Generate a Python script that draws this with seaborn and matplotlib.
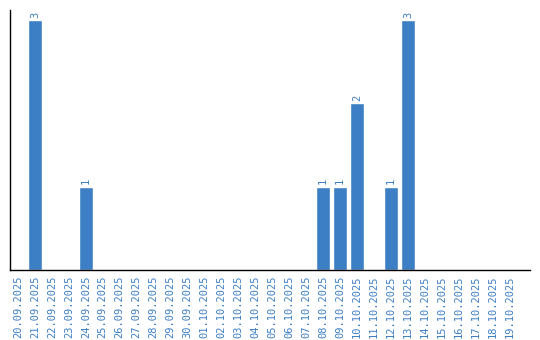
import matplotlib
matplotlib.use("Agg")
import matplotlib.pyplot as plt
import seaborn as sns
import pandas as pd

dates = ["20.09.2025", "21.09.2025", "22.09.2025", "23.09.2025", "24.09.2025",
         "25.09.2025", "26.09.2025", "27.09.2025", "28.09.2025", "29.09.2025",
         "30.09.2025", "01.10.2025", "02.10.2025", "03.10.2025", "04.10.2025",
         "05.10.2025", "06.10.2025", "07.10.2025", "08.10.2025", "09.10.2025",
         "10.10.2025", "11.10.2025", "12.10.2025", "13.10.2025", "14.10.2025",
         "15.10.2025", "16.10.2025", "17.10.2025", "18.10.2025", "19.10.2025"]
counts = [0, 3, 0, 0, 1, 0, 0, 0, 0, 0,
          0, 0, 0, 0, 0, 0, 0, 0, 1, 1,
          2, 0, 1, 3, 0, 0, 0, 0, 0, 0]

blue = "#3d7fc4"
sns.set_style("white")
plt.rcParams['font.family'] = ['DejaVu Sans Mono', 'DejaVu Sans']

df = pd.DataFrame({"date": dates, "count": counts})
fig = plt.figure(figsize=(5.4, 3.4), dpi=100)
ax = fig.add_axes([10/540, 70/340, 520/540, 260/340])
sns.barplot(data=df, x="date", y="count", color=blue, saturation=1, width=0.82, ax=ax)

for i, v in enumerate(counts):
    if v > 0:
        ax.text(i, v + 0.03, str(v), rotation=90, ha="center", va="bottom",
                fontsize=7.5, color=blue)

ax.set_xlim(-0.47, 30.2)
ax.set_ylim(0, 3.12)
ax.set_xlabel("")
ax.set_ylabel("")
ax.set_yticks([])
ax.tick_params(axis="x", rotation=90, labelsize=7.5, labelcolor=blue, length=0, pad=4)
for s in ["top", "right"]:
    ax.spines[s].set_visible(False)
for s in ["left", "bottom"]:
    ax.spines[s].set_color("black")
    ax.spines[s].set_linewidth(1)

fig.savefig("out.png", dpi=100)
